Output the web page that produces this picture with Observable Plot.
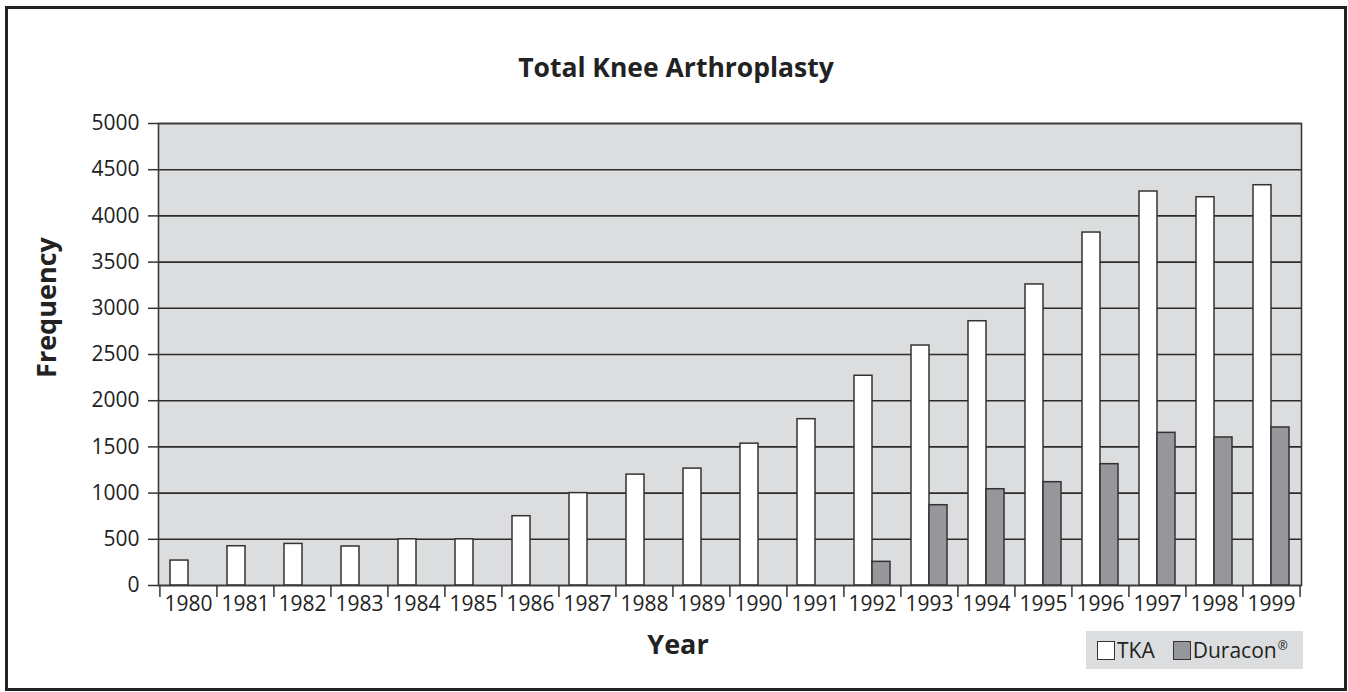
<!DOCTYPE html>
<html>
<head>
<meta charset="utf-8">
<script src="https://cdn.jsdelivr.net/npm/d3@7"></script>
<script src="https://cdn.jsdelivr.net/npm/@observablehq/plot@0.6"></script>
<style>
  html, body { margin: 0; padding: 0; background: white; }
  #wrap { position: relative; width: 1348px; height: 692px; font-family: "Open Sans", sans-serif; color: #222; overflow: hidden; }
  #chart { position: absolute; left: 0; top: 0; }
  #border { position: absolute; left: 5px; top: 6px; width: 1342px; height: 685px; box-sizing: border-box; border: 3px solid #222; pointer-events: none; }
  #title { position: absolute; left: 0; width: 1352px; top: 52px; text-align: center; font-size: 26.5px; font-weight: 700; line-height: 30px; color: #222; }
  #legend { position: absolute; left: 1086px; top: 631px; width: 217px; height: 38px; background: #dcdddf; display: flex; align-items: center; font-size: 21px; color: #222; }
  .item { display: flex; align-items: center; margin-left: 11px; }
  .item + .item { margin-left: 18px; }
  .sw { width: 18px; height: 19px; border: 1.5px solid #333; margin-right: 2px; box-sizing: border-box; }
  .reg { font-size: 12px; vertical-align: 8px; margin-left: 1px; }
</style>
</head>
<body>
<div id="wrap">
  <div id="chart"></div>
  <div id="title">Total Knee Arthroplasty</div>
  <div id="legend"></div>
  <div id="border"></div>
</div>
<script>
const years = [1980, 1981, 1982, 1983, 1984, 1985, 1986, 1987, 1988, 1989, 1990, 1991, 1992, 1993, 1994, 1995, 1996, 1997, 1998, 1999];
const tka = [270, 425, 450, 422, 500, 500, 750, 1000, 1200, 1265, 1535, 1800, 2270, 2597, 2860, 3258, 3820, 4264, 4202, 4332];
const duracon = [null, null, null, null, null, null, null, null, null, null, null, null, 256, 869, 1042, 1118, 1313, 1652, 1602, 1710];
const yTicks = [0, 500, 1000, 1500, 2000, 2500, 3000, 3500, 4000, 4500, 5000];
const seriesNames = ["TKA", "Duracon"];
const seriesColors = ["#ffffff", "#96979b"];

const tkaRows = years.map((y, i) => ({year: y, value: tka[i]}));
const durRows = years.map((y, i) => ({year: y, value: duracon[i]})).filter(d => d.value != null);

const W = 1348, H = 692, mL = 158, mR = 47, mT = 123, mB = 107;
const padInner = 0.37;
const step = (W - mL - mR) / years.length;
const bw = step * (1 - padInner);

const chart = Plot.plot({
  width: W, height: H,
  marginLeft: mL, marginRight: mR, marginTop: mT, marginBottom: mB,
  style: {fontFamily: "Open Sans, sans-serif", fontSize: "21px", color: "#222", background: "white"},
  x: {type: "band", domain: years, paddingInner: padInner, paddingOuter: padInner / 2},
  y: {domain: [0, 5000]},
  marks: [
    Plot.frame({fill: "#dcdddf", stroke: "none"}),
    Plot.ruleY(yTicks, {stroke: "#2b2b2b", strokeWidth: 1.6}),
    Plot.barY(tkaRows, {x: "year", y: "value", fill: seriesColors[0], stroke: "#333", strokeWidth: 1.5, insetRight: bw / 2}),
    Plot.barY(durRows, {x: "year", y: "value", fill: seriesColors[1], stroke: "#333", strokeWidth: 1.5, insetLeft: bw / 2}),
    Plot.axisY({ticks: yTicks, tickFormat: d => String(d), tickSize: 10, tickPadding: 9, stroke: "#333", strokeWidth: 1.5, label: null}),
    Plot.axisX({tickSize: 0, tickPadding: 11, tickFormat: d => String(d), label: null}),
    Plot.axisX({tickSize: 12, tickFormat: () => "", dx: -step / 2, label: null, stroke: "#333", strokeWidth: 1.5}),
    Plot.axisX({ticks: [years[years.length - 1]], tickSize: 12, tickFormat: () => "", dx: step / 2, label: null, stroke: "#333", strokeWidth: 1.5}),
    Plot.frame({stroke: "#3a3a3a", strokeWidth: 1.6}),
    Plot.text(["Frequency"], {frameAnchor: "left", textAnchor: "middle", rotate: -90, dx: -111, dy: -47, fontSize: 27, fontWeight: 700, fill: "#222"}),
    Plot.text(["Year"], {frameAnchor: "bottom", textAnchor: "middle", dx: -52, dy: 68, fontSize: 27, fontWeight: 700, fill: "#222"})
  ]
});
document.getElementById("chart").appendChild(chart);

const legend = document.getElementById("legend");
seriesNames.forEach((name, i) => {
  const item = document.createElement("div");
  item.className = "item";
  const sw = document.createElement("div");
  sw.className = "sw";
  sw.style.background = seriesColors[i];
  const label = document.createElement("span");
  label.textContent = name;
  if (i === 1) {
    const r = document.createElement("span");
    r.className = "reg";
    r.textContent = "®";
    label.appendChild(r);
  }
  item.appendChild(sw);
  item.appendChild(label);
  legend.appendChild(item);
});
</script>
</body>
</html>
